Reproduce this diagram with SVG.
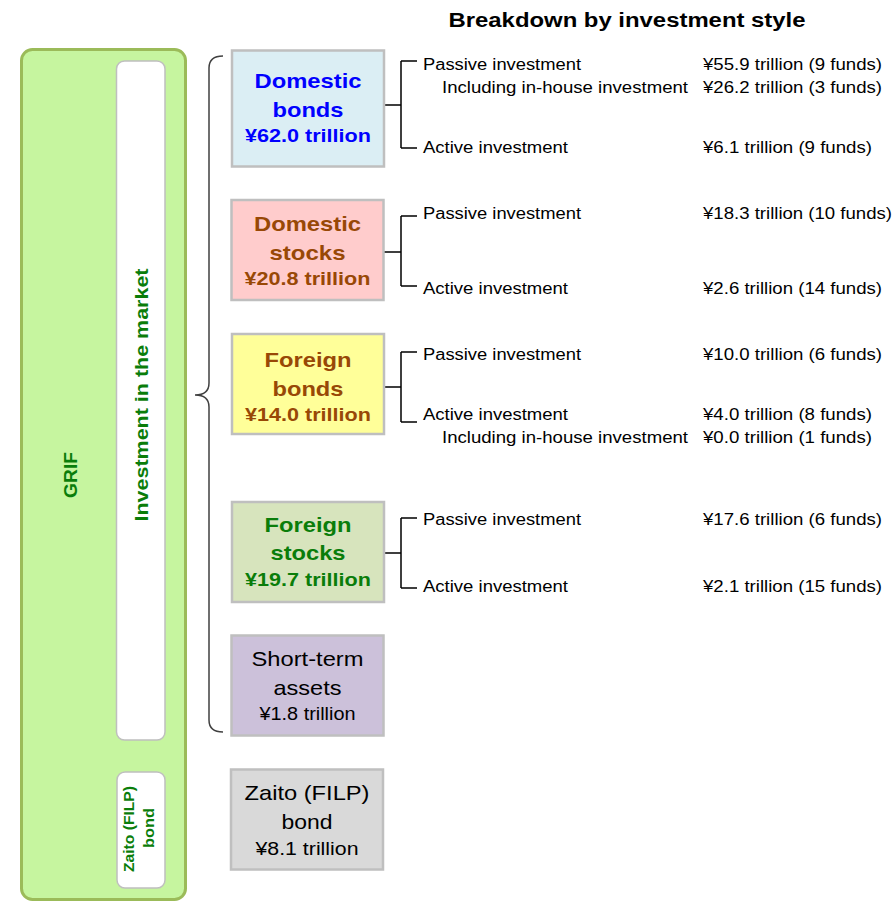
<svg xmlns="http://www.w3.org/2000/svg" width="893" height="901" viewBox="0 0 893 901">
<style>
text{font-family:"Liberation Sans",Arial,sans-serif;}
.lbl{font-size:16px;fill:#000;}
.box{stroke:#bfbfbf;stroke-width:2.5;}
.hb{font-size:21px;font-weight:bold;text-anchor:middle;}
.vb{font-size:19px;font-weight:bold;text-anchor:middle;}
.hn{font-size:21px;text-anchor:middle;fill:#000;}
.vn{font-size:18px;text-anchor:middle;fill:#000;}
.grn{fill:#0a7d0a;font-weight:bold;text-anchor:middle;}
.conn{fill:none;stroke:#000;stroke-width:1.5;}
</style>
<rect width="893" height="901" fill="#fff"/>
<text x="627" y="27" style="font-size:20px;font-weight:bold;text-anchor:middle" textLength="357" lengthAdjust="spacingAndGlyphs">Breakdown by investment style</text>

<g id="grif">
<rect x="21.5" y="49.5" width="164" height="850" rx="11" fill="#c6f59f" stroke="#9bbb59" stroke-width="3"/>
<text class="grn" transform="translate(70,475) rotate(-90)" x="0" y="6.5" style="font-size:18px" textLength="46" lengthAdjust="spacingAndGlyphs">GRIF</text>
</g>
<g id="market">
<rect x="116.5" y="61" width="48.5" height="679" rx="8" fill="#fff" stroke="#bfbfbf" stroke-width="1.5"/>
<text class="grn" transform="translate(141,395) rotate(-90)" x="0" y="7" style="font-size:19px" textLength="253" lengthAdjust="spacingAndGlyphs">Investment in the market</text>
</g>
<g id="zaito-label">
<rect x="117" y="772" width="48" height="116" rx="8" fill="#fff" stroke="#bfbfbf" stroke-width="1.5"/>
<text class="grn" transform="translate(128.5,829) rotate(-90)" x="0" y="5" style="font-size:14px" textLength="86" lengthAdjust="spacingAndGlyphs">Zaito (FILP)</text>
<text class="grn" transform="translate(148.5,828) rotate(-90)" x="0" y="5" style="font-size:14px" textLength="40" lengthAdjust="spacingAndGlyphs">bond</text>
</g>

<g id="connectors">
<path class="conn" style="stroke:#404040" d="M223,56 Q209,56 209,68 L209,383 Q209,395 195,395 Q209,395 209,407 L209,720 Q209,732 223,732"/>
<path class="conn" d="M384,105 H401 M401,61 V148 M401,61 H417 M401,148 H417"/>
<path class="conn" d="M384,252 H401 M401,216 V286 M401,216 H417 M401,286 H417"/>
<path class="conn" d="M384,387 H401 M401,352 V422 M401,352 H417 M401,422 H417"/>
<path class="conn" d="M384,553 H401 M401,518 V588 M401,518 H417 M401,588 H417"/>
</g>

<g id="domestic-bonds">
<rect class="box" x="232" y="50.5" width="152" height="116" fill="#dbeef4"/>
<text class="hb" x="308" y="87.5" fill="#0000ff" textLength="107" lengthAdjust="spacingAndGlyphs">Domestic</text>
<text class="hb" x="308" y="116.5" fill="#0000ff" textLength="71" lengthAdjust="spacingAndGlyphs">bonds</text>
<text class="vb" x="308" y="141.5" fill="#0000ff" textLength="126" lengthAdjust="spacingAndGlyphs">¥62.0 trillion</text>
</g>
<g id="domestic-stocks">
<rect class="box" x="231.5" y="200" width="152" height="100" fill="#ffcccc"/>
<text class="hb" x="307.5" y="230.5" fill="#984806" textLength="107" lengthAdjust="spacingAndGlyphs">Domestic</text>
<text class="hb" x="307.5" y="259.5" fill="#984806" textLength="76" lengthAdjust="spacingAndGlyphs">stocks</text>
<text class="vb" x="307.5" y="284.5" fill="#984806" textLength="126" lengthAdjust="spacingAndGlyphs">¥20.8 trillion</text>
</g>
<g id="foreign-bonds">
<rect class="box" x="232" y="334" width="152" height="100" fill="#ffff99"/>
<text class="hb" x="308" y="366.5" fill="#984806" textLength="87" lengthAdjust="spacingAndGlyphs">Foreign</text>
<text class="hb" x="308" y="395.5" fill="#984806" textLength="71" lengthAdjust="spacingAndGlyphs">bonds</text>
<text class="vb" x="308" y="420.5" fill="#984806" textLength="126" lengthAdjust="spacingAndGlyphs">¥14.0 trillion</text>
</g>
<g id="foreign-stocks">
<rect class="box" x="232" y="502" width="152" height="100" fill="#d7e4bd"/>
<text class="hb" x="308" y="531.5" fill="#0a7d0a" textLength="87" lengthAdjust="spacingAndGlyphs">Foreign</text>
<text class="hb" x="308" y="559.5" fill="#0a7d0a" textLength="75" lengthAdjust="spacingAndGlyphs">stocks</text>
<text class="vb" x="308" y="585.5" fill="#0a7d0a" textLength="126" lengthAdjust="spacingAndGlyphs">¥19.7 trillion</text>
</g>
<g id="short-term">
<rect class="box" x="231.5" y="635.5" width="152" height="100" fill="#ccc1da"/>
<text class="hn" x="307.5" y="665.5" textLength="112" lengthAdjust="spacingAndGlyphs">Short-term</text>
<text class="hn" x="307.5" y="694.5" textLength="68" lengthAdjust="spacingAndGlyphs">assets</text>
<text class="vn" x="307.5" y="719.5" textLength="96" lengthAdjust="spacingAndGlyphs">¥1.8 trillion</text>
</g>
<g id="zaito">
<rect class="box" x="231" y="769.5" width="152" height="100" fill="#d9d9d9"/>
<text class="hn" x="307" y="799.5" textLength="125" lengthAdjust="spacingAndGlyphs">Zaito (FILP)</text>
<text class="hn" x="307" y="828.5" textLength="51" lengthAdjust="spacingAndGlyphs">bond</text>
<text class="vn" x="307" y="854.5" textLength="103" lengthAdjust="spacingAndGlyphs">¥8.1 trillion</text>
</g>

<g id="breakdown">
<text class="lbl" x="423" y="69.5" textLength="158" lengthAdjust="spacingAndGlyphs">Passive investment</text>
<text class="lbl" x="703" y="69.5" textLength="179" lengthAdjust="spacingAndGlyphs">¥55.9 trillion (9 funds)</text>
<text class="lbl" x="442" y="92.5" textLength="246" lengthAdjust="spacingAndGlyphs">Including in-house investment</text>
<text class="lbl" x="703" y="92.5" textLength="179" lengthAdjust="spacingAndGlyphs">¥26.2 trillion (3 funds)</text>
<text class="lbl" x="423" y="152.5" textLength="145" lengthAdjust="spacingAndGlyphs">Active investment</text>
<text class="lbl" x="703" y="152.5" textLength="169" lengthAdjust="spacingAndGlyphs">¥6.1 trillion (9 funds)</text>

<text class="lbl" x="423" y="218.5" textLength="158" lengthAdjust="spacingAndGlyphs">Passive investment</text>
<text class="lbl" x="703" y="218.5" textLength="189" lengthAdjust="spacingAndGlyphs">¥18.3 trillion (10 funds)</text>
<text class="lbl" x="423" y="293.5" textLength="145" lengthAdjust="spacingAndGlyphs">Active investment</text>
<text class="lbl" x="703" y="293.5" textLength="179" lengthAdjust="spacingAndGlyphs">¥2.6 trillion (14 funds)</text>

<text class="lbl" x="423" y="359.5" textLength="158" lengthAdjust="spacingAndGlyphs">Passive investment</text>
<text class="lbl" x="703" y="359.5" textLength="179" lengthAdjust="spacingAndGlyphs">¥10.0 trillion (6 funds)</text>
<text class="lbl" x="423" y="419.5" textLength="145" lengthAdjust="spacingAndGlyphs">Active investment</text>
<text class="lbl" x="703" y="419.5" textLength="169" lengthAdjust="spacingAndGlyphs">¥4.0 trillion (8 funds)</text>
<text class="lbl" x="442" y="442.5" textLength="246" lengthAdjust="spacingAndGlyphs">Including in-house investment</text>
<text class="lbl" x="703" y="442.5" textLength="169" lengthAdjust="spacingAndGlyphs">¥0.0 trillion (1 funds)</text>

<text class="lbl" x="423" y="524.5" textLength="158" lengthAdjust="spacingAndGlyphs">Passive investment</text>
<text class="lbl" x="703" y="524.5" textLength="179" lengthAdjust="spacingAndGlyphs">¥17.6 trillion (6 funds)</text>
<text class="lbl" x="423" y="591.5" textLength="145" lengthAdjust="spacingAndGlyphs">Active investment</text>
<text class="lbl" x="703" y="591.5" textLength="179" lengthAdjust="spacingAndGlyphs">¥2.1 trillion (15 funds)</text>
</g>
</svg>
